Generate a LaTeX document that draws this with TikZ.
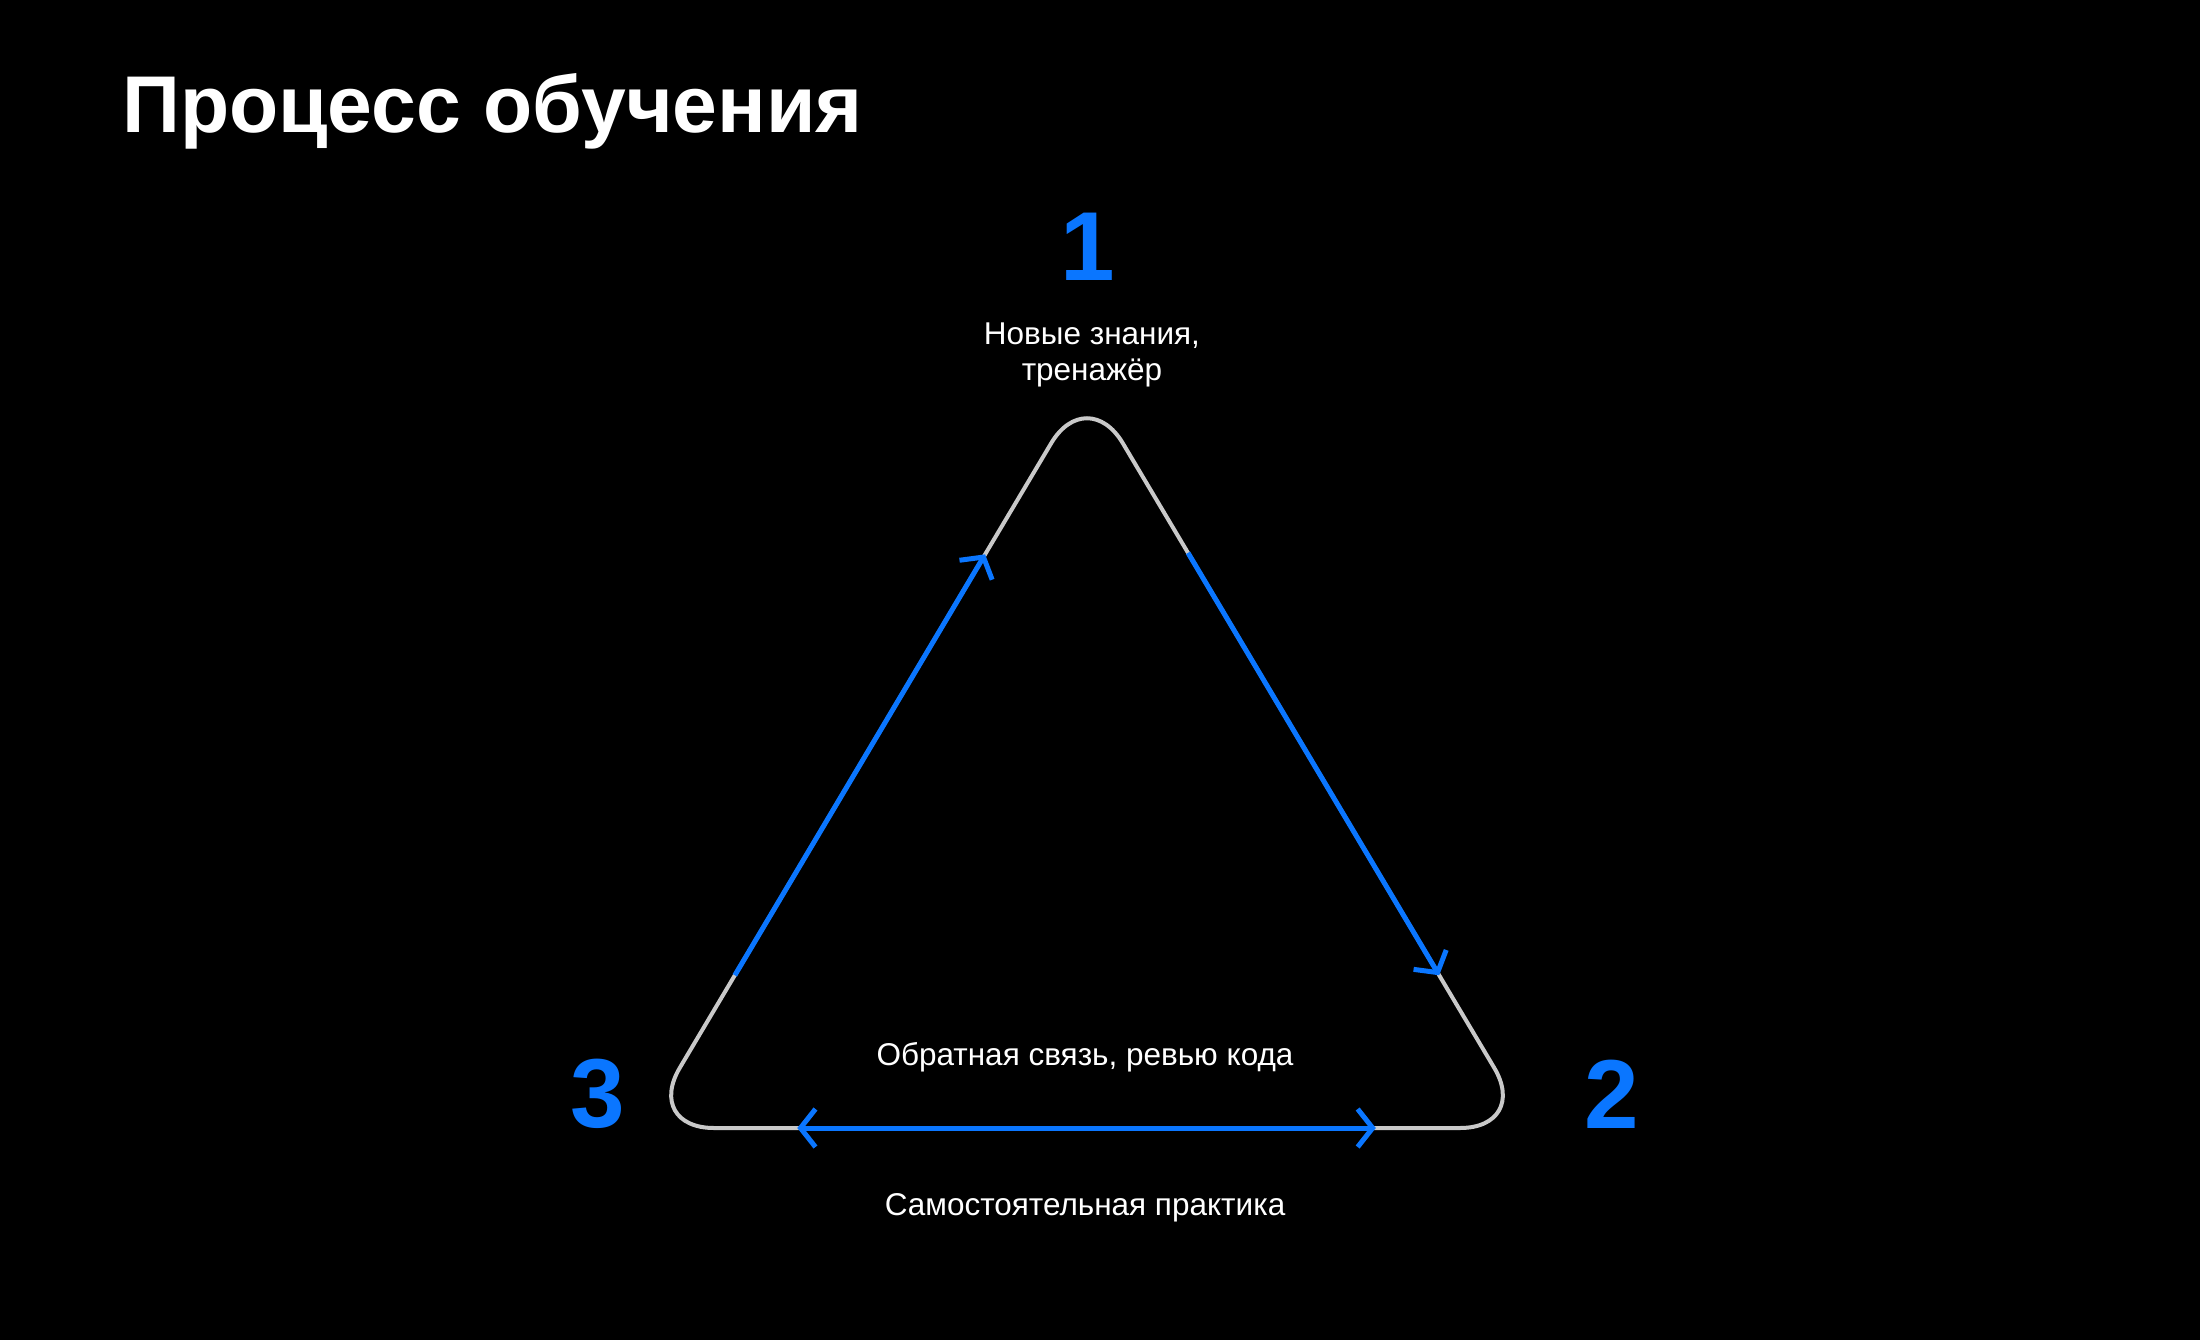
\documentclass[tikz,border=0pt]{standalone}
\usepackage{fontspec}
\setmainfont{Liberation Sans}
\usetikzlibrary{arrows.meta,calc}
\definecolor{accent}{HTML}{0A76FF}
\definecolor{edgegray}{HTML}{C9C9C9}
\tikzset{
  frame/.style={draw=edgegray, line width=4pt, rounded corners=70pt},
  flow/.style={draw=accent, line width=5pt},
  tipshape/.style={Straight Barb[length=15pt,width=38pt,line width=5pt]},
  chev/.style={-{Straight Barb[length=15pt,width=38pt,line width=5pt]}},
  bichev/.style={{Straight Barb[length=15pt,width=38pt,line width=5pt]}-{Straight Barb[length=15pt,width=38pt,line width=5pt]}},
  num/.style={text=accent, font=\fontsize{98}{98}\selectfont\bfseries, inner sep=0pt, anchor=base},
  lab/.style={text=white, font=\fontsize{31.5}{36}\selectfont, inner sep=0pt, anchor=base, align=center},
}
\begin{document}
\begin{tikzpicture}[x=1pt,y=-1pt]
\fill[black] (0,0) rectangle (2200,1340);
\useasboundingbox (0,0) rectangle (2200,1340);

\node[text=white, font=\fontsize{80.5}{80.5}\selectfont\bfseries, inner sep=0pt, anchor=base west] (title) at (122,133) {Процесс обучения};

\coordinate (A) at (1087,383);
\coordinate (B) at (1530,1128);
\coordinate (C) at (644,1128);
\coordinate (M) at (1087,1128);

\draw[frame] (M) -- (B) -- (A) -- (C) -- cycle;

\coordinate (l1) at ($(C)!0.205!(A)$);
\coordinate (l2) at ($(C)!0.770!(A)$);
\coordinate (r1) at ($(A)!0.228!(B)$);
\coordinate (r2) at ($(A)!0.795!(B)$);
\coordinate (b1) at ($(C)!0.173!(B)$);
\coordinate (b2) at ($(C)!0.826!(B)$);

\draw[flow, chev] (l1) -- (l2);
\draw[flow, chev] (r1) -- (r2);
\draw[flow, bichev] (b1) -- (b2);

\node[num] (n1) at (1088,281) {1};
\node[num] (n2) at (1612,1128) {2};
\node[num] (n3) at (598,1127) {3};

\node[lab] (lab1) at (1092,380) {Новые знания,\\ тренажёр};
\node[lab] (lab3) at (1085,1065) {Обратная связь, ревью кода};
\node[lab] (lab2) at (1085,1215) {Самостоятельная практика};
\end{tikzpicture}
\end{document}
